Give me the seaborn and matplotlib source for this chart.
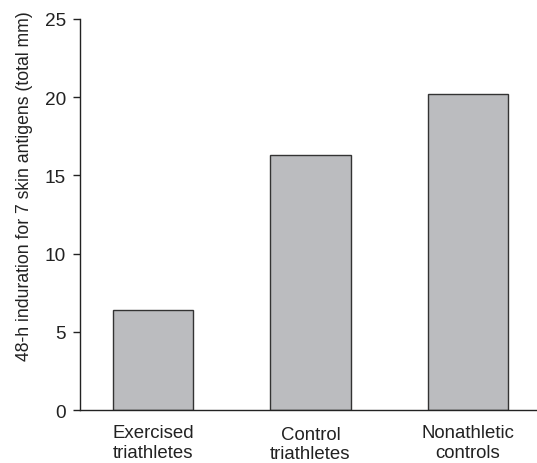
import matplotlib
matplotlib.use("Agg")
import matplotlib.pyplot as plt
import seaborn as sns
import pandas as pd

# data
groups = ["Exercised\ntriathletes", "Control\ntriathletes", "Nonathletic\ncontrols"]
induration = [6.4, 16.3, 20.2]
yticks = [0, 5, 10, 15, 20, 25]

df = pd.DataFrame({"group": groups, "induration": induration})

sns.set_style("ticks")
plt.rcParams['font.family'] = ['Liberation Sans', 'DejaVu Sans']

fig = plt.figure(figsize=(5.37, 4.64), dpi=100)
ax = fig.add_axes([0.149, 0.114, 0.851, 0.843])

sns.barplot(data=df, x="group", y="induration", color="#bbbcbf",
            edgecolor="#333333", linewidth=1.0, width=0.51, saturation=1, ax=ax)

ax.set_ylim(0, 25)
ax.set_yticks(yticks)
ax.set_xlim(-0.465, 2.44)
ax.set_xlabel("")
ax.set_ylabel("48-h induration for 7 skin antigens (total mm)", fontsize=12.7, color="#222222")
ax.yaxis.set_label_coords(-0.103, 0.575)

for s in ["top", "right"]:
    ax.spines[s].set_visible(False)
for s in ["left", "bottom"]:
    ax.spines[s].set_linewidth(1.0)
    ax.spines[s].set_color("#222222")

ax.tick_params(axis="y", direction="out", length=5, width=1, labelsize=13.7, colors="#222222", pad=5)
ax.tick_params(axis="x", length=0, labelsize=13.4, colors="#222222", pad=10)

# middle label sits a little lower in the original
labs = ax.get_xticklabels()
labs[1].set_y(-0.004)

fig.savefig("out.png", dpi=100)
